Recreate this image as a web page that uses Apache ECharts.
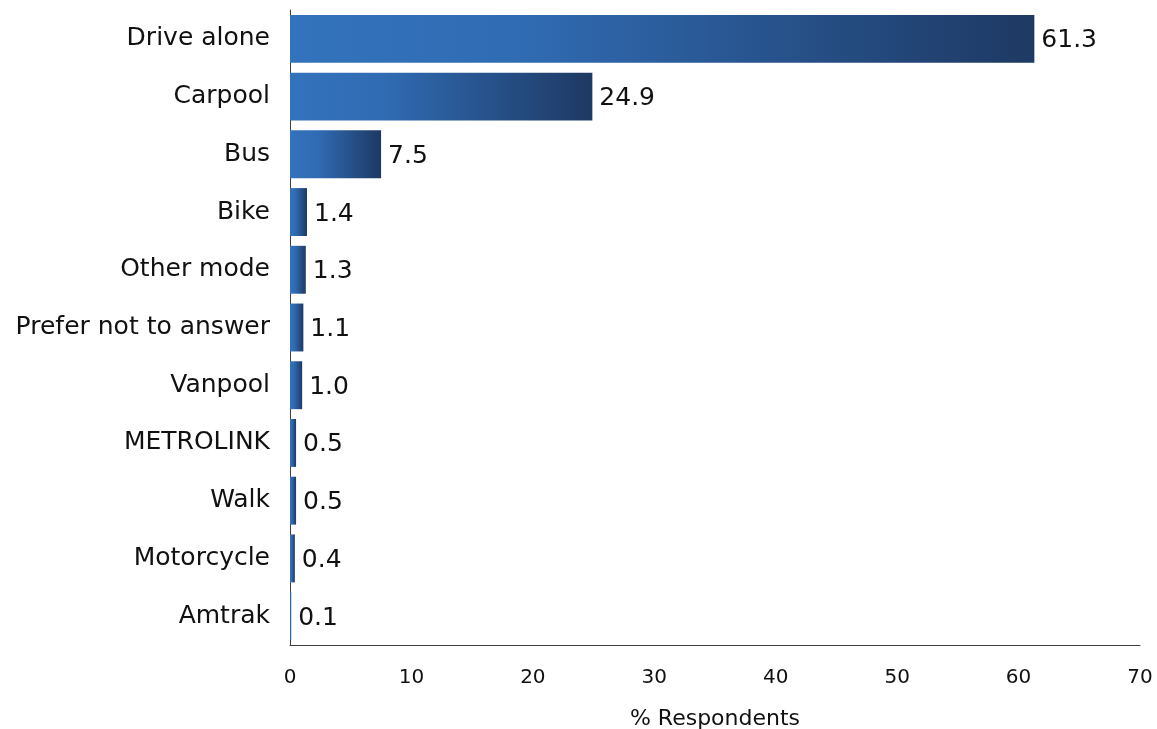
<!DOCTYPE html>
<html>
<head>
<meta charset="utf-8">
<script src="https://cdn.jsdelivr.net/npm/echarts@6/dist/echarts.min.js"></script>
<style>
html,body{margin:0;padding:0;background:#fff;}
#chart{width:1157px;height:729px;}
</style>
</head>
<body>
<div id="chart"></div>
<script>
const categories = ['Drive alone','Carpool','Bus','Bike','Other mode','Prefer not to answer','Vanpool','METROLINK','Walk','Motorcycle','Amtrak'];
const values = [61.3, 24.9, 7.5, 1.4, 1.3, 1.1, 1.0, 0.5, 0.5, 0.4, 0.1];
const xTicks = { min: 0, max: 70, interval: 10 };
const axisTitle = '% Respondents';

const chart = echarts.init(document.getElementById('chart'), null, {renderer:'canvas'});
const font = 'DejaVu Sans';
chart.setOption({
  animation: false,
  backgroundColor: '#ffffff',
  grid: { left: 290, right: 17, top: 10, bottom: 84, containLabel: false, outerBoundsMode: 'none' },
  xAxis: {
    type: 'value',
    min: xTicks.min, max: xTicks.max, interval: xTicks.interval,
    splitLine: { show: false },
    axisTick: { show: false },
    axisLine: { show: true, lineStyle: { color: '#404040', width: 1 } },
    axisLabel: { color: '#111', fontFamily: font, fontSize: 20, margin: 23 },
    name: axisTitle,
    nameLocation: 'middle',
    nameGap: 63,
    nameTextStyle: { color: '#111', fontFamily: font, fontSize: 22 }
  },
  yAxis: {
    type: 'category',
    data: categories,
    inverse: true,
    axisTick: { show: false },
    axisLine: { show: true, lineStyle: { color: '#404040', width: 1 } },
    axisLabel: { color: '#111', fontFamily: font, fontSize: 25, margin: 20, padding: [5, 0, 0, 0] }
  },
  series: [{
    type: 'bar',
    data: values,
    barCategoryGap: '17%',
    itemStyle: {
      color: new echarts.graphic.LinearGradient(0, 0, 1, 0, [
        { offset: 0, color: '#3372bc' },
        { offset: 0.3, color: '#306cb4' },
        { offset: 1, color: '#1e3963' }
      ])
    },
    label: {
      show: true,
      position: 'right',
      distance: 7,
      offset: [0, 2],
      color: '#111',
      fontFamily: font,
      fontSize: 25,
      formatter: p => p.value.toFixed(1)
    }
  }]
});
</script>
</body>
</html>
